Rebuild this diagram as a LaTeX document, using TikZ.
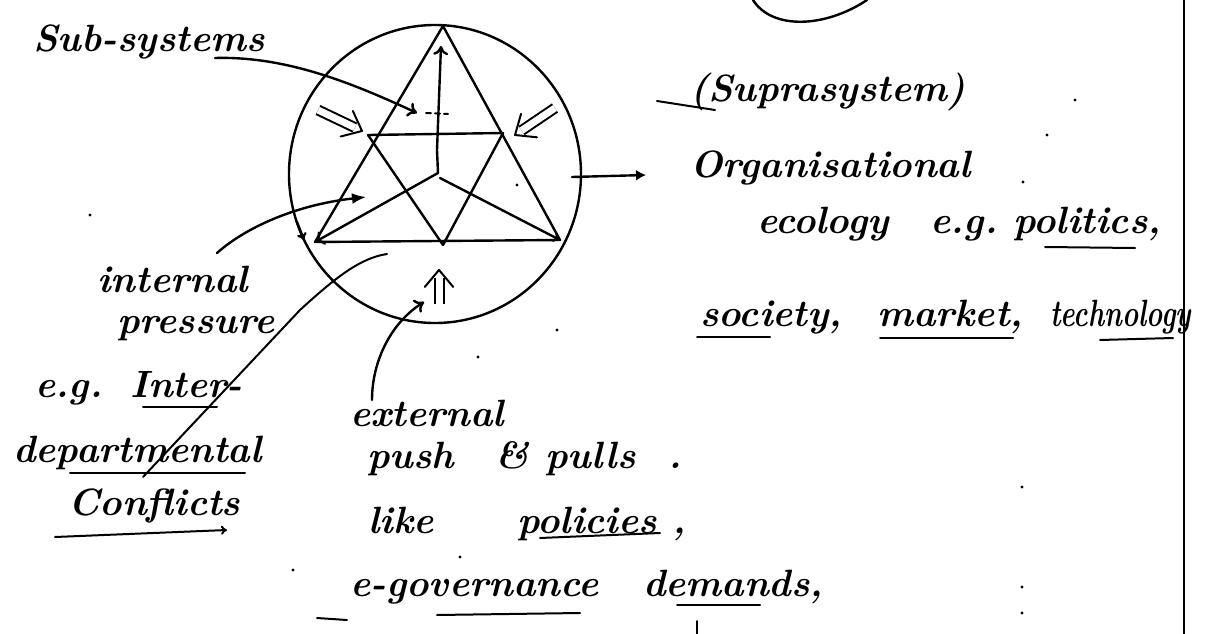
\documentclass[tikz,border=0pt]{standalone}
\usetikzlibrary{arrows.meta,calc}
\begin{document}
\begin{tikzpicture}[x=1pt,y=-1pt,
  pen/.style={line width=2.4pt, line cap=round, line join=round},
  thinpen/.style={line width=2pt, line cap=round, line join=round},
  hw/.style={font=\fontsize{38}{46}\selectfont\bfseries\itshape, inner sep=0pt, anchor=base west},
  openarrow/.style={-{To[length=9pt,width=15pt]}},
  fillarrow/.style={-{Latex[length=14pt,width=11pt]}},
  dblshaft/.style={line width=2pt, double distance=7pt, shorten >=8pt},
  dotmark/.style={fill=black, circle, inner sep=1.2pt}]
\useasboundingbox (0,0) rectangle (1216,634);

% ---- outer boundary (system) ----
\draw[pen] (435,174) ellipse [x radius=146, y radius=149];
\coordinate (bl0) at (297,222);
\coordinate (bl1) at (304,240);
\draw[pen, -{To[length=7pt,width=10pt]}] (bl0) -- (bl1);

% ---- triangles ----
\coordinate (T) at (443,26);
\coordinate (BL) at (315,242);
\coordinate (BR) at (560,240);
\coordinate (IL) at (368,135);
\coordinate (IR) at (503,133);
\coordinate (IB) at (443,245);
\coordinate (C) at (438,173);
\coordinate (Cb) at (440,178);
\coordinate (Tup) at (441,46);
\draw[pen] (T) -- (BL) -- (BR) -- cycle;
\draw[pen] (IL) -- (IR) -- (IB) -- cycle;
\draw[pen, openarrow] (C) -- (437,150) -- (Tup);
\draw[pen, openarrow] (C) -- (BL);
\draw[pen, -{To[length=7pt,width=10pt]}] (Cb) -- (BR);

% ---- double arrows (pressures) ----
\coordinate (da1) at (318,110);
\coordinate (da1e) at (362,131);
\coordinate (da2) at (555,108);
\coordinate (da2e) at (515,135);
\coordinate (da3) at (439,304);
\coordinate (da3e) at (439,270);
\foreach \a/\b in {da1/da1e, da2/da2e, da3/da3e}{
  \draw[dblshaft] (\a) -- (\b);
  \draw[thinpen] ($(\b)!22pt!40:(\a)$) -- (\b) -- ($(\b)!22pt!-40:(\a)$);
}

% ---- top arc and right rule ----
\coordinate (arcA) at (753,0);
\coordinate (arcB) at (867,0);
\draw[pen] (arcA) .. controls (772,30) and (825,28) .. (arcB);
\coordinate (ruleT) at (1184,0);
\coordinate (ruleB) at (1184,634);
\draw[pen] (ruleT) -- (ruleB);

% ---- texts ----
\node[hw] (subsys) at (33,52) {Sub-systems};
\node[hw] (supra) at (690,101) {(Suprasystem)};
\node[hw] (org) at (690,177) {Organisational};
\node[hw] (eco) at (757,233) {ecology};
\node[hw] (eg1) at (930,233) {e.g.};
\node[hw] (pol) at (1013,233) {politics,};
\node[hw] (soc) at (700,326) {society,};
\node[hw] (mkt) at (877,326) {market,};
\node[hw] (tech) at (1050,326) {\scalebox{0.72}[1]{technology}};

\node[hw] (int) at (97,292) {internal};
\node[hw] (press) at (117,333) {pressure};
\node[hw] (eg2) at (35,397) {e.g.};
\node[hw] (inter) at (130,397) {Inter-};
\node[hw] (dept) at (13,462) {departmental};
\node[hw] (confl) at (68,515) {Conflicts};

\node[hw] (ext) at (350,426) {external};
\node[hw] (push) at (367,468) {push};
\node[hw] (amp) at (495,468) {\&};
\node[hw] (pulls) at (545,468) {pulls};
\node[hw] (stop1) at (668,468) {.};
\node[hw] (like) at (368,533) {like};
\node[hw] (polic) at (517,533) {policies};
\node[hw] (com1) at (672,533) {,};
\node[hw] (egov) at (350,596) {e-governance};
\node[hw] (dem) at (643,596) {demands,};

% ---- underlines ----
\draw[thinpen] (657,101) -- (715,110);
\draw[thinpen] (1045,247) -- (1135,248);
\draw[thinpen] (697,337) -- (770,337);
\draw[thinpen] (880,338) -- (1013,338);
\draw[thinpen] (1100,340) -- (1173,338);
\draw[thinpen] (143,407) -- (217,407);
\draw[thinpen] (70,473) -- (245,473);
\draw[thinpen] (540,538) -- (660,533);
\draw[thinpen] (317,618) -- (347,620);
\draw[thinpen] (437,615) -- (580,613);
\draw[thinpen] (677,605) -- (760,605);
\draw[thinpen] (697,621) -- (697,634);
\coordinate (cfA) at (55,537);
\coordinate (cfB) at (227,530);
\draw[thinpen, -{To[length=6pt,width=9pt]}] (cfA) -- (cfB);

% ---- connectors ----
\coordinate (ss0) at (215,58);
\coordinate (ssE) at (417,113);
\coordinate (ssD0) at (426,113);
\coordinate (ssD1) at (448,114);
\draw[pen, openarrow] (ss0) .. controls (285,56) and (350,82) .. (ssE);
\draw[thinpen, dash pattern=on 5pt off 4pt] (ssD0) -- (ssD1);

\coordinate (ip0) at (217,253);
\coordinate (ipE) at (366,197);
\draw[pen, fillarrow] (ip0) .. controls (245,228) and (295,205) .. (ipE);

\coordinate (ex0) at (372,400);
\coordinate (exE) at (424,302);
\draw[pen, openarrow] (ex0) .. controls (372,360) and (392,322) .. (exE);

\coordinate (cR) at (572,177);
\coordinate (arrR) at (646,175);
\draw[pen, -{Latex[length=10pt,width=11pt]}] (cR) -- (arrR);

\coordinate (dg0) at (387,254);
\coordinate (dg1) at (300,310);
\coordinate (dgE) at (143,477);
\draw[thinpen] (dg0) .. controls (360,258) and (335,278) .. (dg1) -- (dgE);

% ---- stray dots ----
\foreach \p [count=\i] in {(1075,100),(1047,135),(1023,182),(1022,487),(1022,587),(1022,613),(557,330),(478,357),(460,557),(293,570),(90,215),(517,185)}
  \node[dotmark] (dot\i) at \p {};
\end{tikzpicture}
\end{document}
